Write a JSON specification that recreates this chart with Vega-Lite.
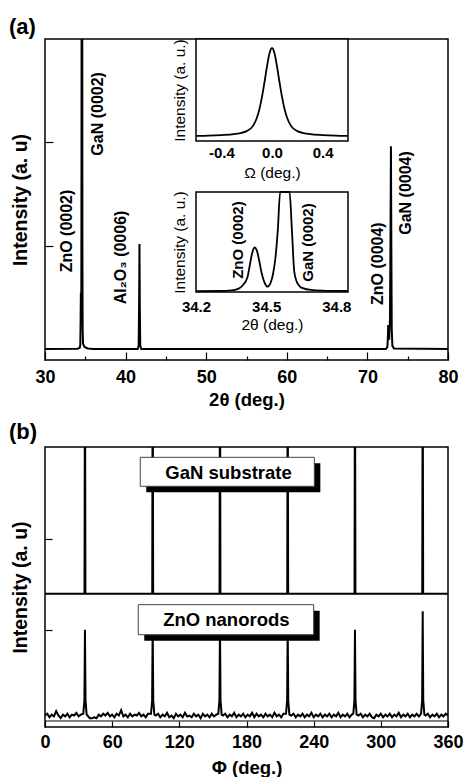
{
  "$schema": "https://vega.github.io/schema/vega-lite/v6.json",
  "background": "white",
  "padding": {"left": 8, "top": 15, "right": 5, "bottom": 0},
  "config": {
    "font": "Liberation Sans",
    "view": {"stroke": "black", "strokeWidth": 1.5},
    "axis": {"grid": false, "domain": false, "tickColor": "black", "tickWidth": 1.2, "labelColor": "black", "titleColor": "black", "labelFont": "Liberation Sans", "titleFont": "Liberation Sans", "labelFontWeight": "bold", "titleFontWeight": "bold", "labelFlush": false, "labelOverlap": false},
    "title": {"font": "Liberation Sans", "fontWeight": "bold", "color": "black"},
    "text": {"font": "Liberation Sans"}
  },
  "datasets": {
    "main": [
      {"x": 30, "y": 0.01}, {"x": 34.0, "y": 0.012}, {"x": 34.3, "y": 0.02}, {"x": 34.38, "y": 0.05}, {"x": 34.42, "y": 0.3}, {"x": 34.45, "y": 0.55}, {"x": 34.48, "y": 0.3}, {"x": 34.5, "y": 0.25}, {"x": 34.52, "y": 1.2}, {"x": 34.54, "y": 3.5}, {"x": 34.62, "y": 3.5}, {"x": 34.64, "y": 1.0}, {"x": 34.67, "y": 0.2}, {"x": 34.72, "y": 0.06}, {"x": 34.9, "y": 0.03}, {"x": 35.3, "y": 0.015}, {"x": 36, "y": 0.01},
      {"x": 41.5, "y": 0.01}, {"x": 41.62, "y": 0.04}, {"x": 41.68, "y": 0.5}, {"x": 41.72, "y": 1.02}, {"x": 41.76, "y": 0.45}, {"x": 41.82, "y": 0.04}, {"x": 41.95, "y": 0.01},
      {"x": 72.3, "y": 0.01}, {"x": 72.48, "y": 0.03}, {"x": 72.54, "y": 0.12}, {"x": 72.58, "y": 0.24}, {"x": 72.62, "y": 0.16}, {"x": 72.7, "y": 0.1}, {"x": 72.8, "y": 0.3}, {"x": 72.86, "y": 1.0}, {"x": 72.92, "y": 1.96}, {"x": 72.97, "y": 1.0}, {"x": 73.02, "y": 0.2}, {"x": 73.1, "y": 0.04}, {"x": 73.3, "y": 0.015}, {"x": 80, "y": 0.01}
    ],
    "mainLab": [
      {"x": 32.73, "y": 1.144, "t": "ZnO (0002)"},
      {"x": 36.58, "y": 2.27, "t": "GaN (0002)"},
      {"x": 39.43, "y": 0.89, "t": "Al₂O₃ (0006)"},
      {"x": 71.3, "y": 0.83, "t": "ZnO (0004)"},
      {"x": 74.8, "y": 1.51, "t": "GaN (0004)"}
    ],
    "rock": [
      {"x": -0.6, "y": 0.12}, {"x": -0.5, "y": 0.14}, {"x": -0.4, "y": 0.19}, {"x": -0.3, "y": 0.27}, {"x": -0.25, "y": 0.35}, {"x": -0.2, "y": 0.51}, {"x": -0.15, "y": 0.94}, {"x": -0.12, "y": 1.59}, {"x": -0.1, "y": 2.29}, {"x": -0.08, "y": 3.26}, {"x": -0.06, "y": 4.48}, {"x": -0.04, "y": 5.79}, {"x": -0.02, "y": 6.89}, {"x": 0, "y": 7.33},
      {"x": 0.02, "y": 6.89}, {"x": 0.04, "y": 5.79}, {"x": 0.06, "y": 4.48}, {"x": 0.08, "y": 3.26}, {"x": 0.1, "y": 2.29}, {"x": 0.12, "y": 1.59}, {"x": 0.15, "y": 0.94}, {"x": 0.2, "y": 0.51}, {"x": 0.25, "y": 0.35}, {"x": 0.3, "y": 0.27}, {"x": 0.4, "y": 0.19}, {"x": 0.5, "y": 0.14}, {"x": 0.6, "y": 0.12}
    ],
    "zscan": [
      {"x": 34.2, "y": 0.2}, {"x": 34.3, "y": 0.21}, {"x": 34.35, "y": 0.24}, {"x": 34.38, "y": 0.32}, {"x": 34.4, "y": 0.5}, {"x": 34.42, "y": 0.9}, {"x": 34.43, "y": 1.5}, {"x": 34.44, "y": 2.1}, {"x": 34.45, "y": 2.39}, {"x": 34.46, "y": 2.25}, {"x": 34.47, "y": 1.75}, {"x": 34.48, "y": 1.15}, {"x": 34.49, "y": 0.72}, {"x": 34.5, "y": 0.48}, {"x": 34.505, "y": 0.43}, {"x": 34.51, "y": 0.45}, {"x": 34.52, "y": 0.65}, {"x": 34.53, "y": 1.1}, {"x": 34.54, "y": 1.9}, {"x": 34.55, "y": 3.3}, {"x": 34.56, "y": 5.3}, {"x": 34.57, "y": 8}, {"x": 34.58, "y": 9}, {"x": 34.59, "y": 8}, {"x": 34.6, "y": 6}, {"x": 34.61, "y": 3.3}, {"x": 34.62, "y": 1.2}, {"x": 34.63, "y": 0.7}, {"x": 34.64, "y": 0.5}, {"x": 34.65, "y": 0.38}, {"x": 34.7, "y": 0.25}, {"x": 34.76, "y": 0.22}, {"x": 34.85, "y": 0.21}
    ],
    "zLab": [
      {"x": 34.378, "y": 2.76, "t": "ZnO (0002)"},
      {"x": 34.68, "y": 2.64, "t": "GaN (0002)"}
    ],
    "gan": [
      {"x": 0, "y": 1.409}, {"x": 35.2, "y": 1.409}, {"x": 35.7, "y": 5}, {"x": 36.2, "y": 1.409},
      {"x": 95.7, "y": 1.409}, {"x": 96.2, "y": 5}, {"x": 96.7, "y": 1.409},
      {"x": 155.8, "y": 1.409}, {"x": 156.3, "y": 5}, {"x": 156.8, "y": 1.409},
      {"x": 216.3, "y": 1.409}, {"x": 216.8, "y": 5}, {"x": 217.3, "y": 1.409},
      {"x": 276.4, "y": 1.409}, {"x": 276.9, "y": 5}, {"x": 277.4, "y": 1.409},
      {"x": 336.9, "y": 1.409}, {"x": 337.4, "y": 5}, {"x": 337.9, "y": 1.409}, {"x": 360, "y": 1.409}
    ],
    "zno": [
      {"x": 0, "y": 0.03}, {"x": 2, "y": 0.05}, {"x": 4, "y": 0.01}, {"x": 6, "y": 0.04}, {"x": 8, "y": 0.02}, {"x": 10, "y": 0.08}, {"x": 12, "y": 0.03}, {"x": 14, "y": 0.0}, {"x": 16, "y": 0.04}, {"x": 18, "y": 0.02}, {"x": 20, "y": 0.05}, {"x": 22, "y": 0.01}, {"x": 24, "y": 0.04}, {"x": 26, "y": 0.03}, {"x": 28, "y": 0.06}, {"x": 30, "y": 0.02}, {"x": 32, "y": 0.04},
      {"x": 34.2, "y": 0.05}, {"x": 35.2, "y": 0.2}, {"x": 35.7, "y": 1.0}, {"x": 36.2, "y": 0.2}, {"x": 37.2, "y": 0.04},
      {"x": 38, "y": 0.03}, {"x": 40, "y": 0.0}, {"x": 42, "y": 0.0}, {"x": 44, "y": 0.01}, {"x": 46, "y": 0.0}, {"x": 48, "y": 0.04}, {"x": 50, "y": 0.02}, {"x": 52, "y": 0.05}, {"x": 54, "y": 0.03}, {"x": 56, "y": 0.06}, {"x": 58, "y": 0.02}, {"x": 60, "y": 0.04}, {"x": 62, "y": 0.01}, {"x": 64, "y": 0.05}, {"x": 66, "y": 0.03}, {"x": 68, "y": 0.09}, {"x": 70, "y": 0.02}, {"x": 72, "y": 0.04}, {"x": 74, "y": 0.01}, {"x": 76, "y": 0.05}, {"x": 78, "y": 0.02}, {"x": 80, "y": 0.04}, {"x": 82, "y": 0.03}, {"x": 84, "y": 0.06}, {"x": 86, "y": 0.02}, {"x": 88, "y": 0.04}, {"x": 90, "y": 0.01}, {"x": 92, "y": 0.05},
      {"x": 94.7, "y": 0.05}, {"x": 95.7, "y": 0.2}, {"x": 96.2, "y": 1.05}, {"x": 96.7, "y": 0.2}, {"x": 97.7, "y": 0.04},
      {"x": 99, "y": 0.03}, {"x": 101, "y": 0.05}, {"x": 103, "y": 0.01}, {"x": 105, "y": 0.04}, {"x": 107, "y": 0.02}, {"x": 109, "y": 0.06}, {"x": 111, "y": 0.01}, {"x": 113, "y": 0.03}, {"x": 115, "y": 0.0}, {"x": 117, "y": 0.05}, {"x": 119, "y": 0.02}, {"x": 121, "y": 0.04}, {"x": 123, "y": 0.01}, {"x": 125, "y": 0.06}, {"x": 127, "y": 0.02}, {"x": 129, "y": 0.03}, {"x": 131, "y": 0.01}, {"x": 133, "y": 0.05}, {"x": 135, "y": 0.02}, {"x": 137, "y": 0.04}, {"x": 139, "y": 0.0}, {"x": 141, "y": 0.05}, {"x": 143, "y": 0.02}, {"x": 145, "y": 0.04}, {"x": 147, "y": 0.01}, {"x": 149, "y": 0.05}, {"x": 151, "y": 0.02}, {"x": 153, "y": 0.04},
      {"x": 154.8, "y": 0.05}, {"x": 155.8, "y": 0.2}, {"x": 156.3, "y": 1.05}, {"x": 156.8, "y": 0.2}, {"x": 157.8, "y": 0.04},
      {"x": 159, "y": 0.03}, {"x": 161, "y": 0.05}, {"x": 163, "y": 0.01}, {"x": 165, "y": 0.04}, {"x": 167, "y": 0.02}, {"x": 169, "y": 0.06}, {"x": 171, "y": 0.01}, {"x": 173, "y": 0.04}, {"x": 175, "y": 0.02}, {"x": 177, "y": 0.05}, {"x": 179, "y": 0.01}, {"x": 181, "y": 0.04}, {"x": 183, "y": 0.02}, {"x": 185, "y": 0.06}, {"x": 187, "y": 0.01}, {"x": 189, "y": 0.05}, {"x": 191, "y": 0.02}, {"x": 193, "y": 0.04}, {"x": 195, "y": 0.01}, {"x": 197, "y": 0.05}, {"x": 199, "y": 0.02}, {"x": 201, "y": 0.04}, {"x": 203, "y": 0.01}, {"x": 205, "y": 0.06}, {"x": 207, "y": 0.02}, {"x": 209, "y": 0.04}, {"x": 211, "y": 0.01}, {"x": 213, "y": 0.05},
      {"x": 215.3, "y": 0.05}, {"x": 216.3, "y": 0.2}, {"x": 216.8, "y": 1.05}, {"x": 217.3, "y": 0.2}, {"x": 218.3, "y": 0.04},
      {"x": 220, "y": 0.03}, {"x": 222, "y": 0.05}, {"x": 224, "y": 0.01}, {"x": 226, "y": 0.04}, {"x": 228, "y": 0.02}, {"x": 230, "y": 0.05}, {"x": 232, "y": 0.01}, {"x": 234, "y": 0.04}, {"x": 236, "y": 0.02}, {"x": 238, "y": 0.06}, {"x": 240, "y": 0.01}, {"x": 242, "y": 0.04}, {"x": 244, "y": 0.02}, {"x": 246, "y": 0.05}, {"x": 248, "y": 0.01}, {"x": 250, "y": 0.04}, {"x": 252, "y": 0.02}, {"x": 254, "y": 0.05}, {"x": 256, "y": 0.01}, {"x": 258, "y": 0.04}, {"x": 260, "y": 0.02}, {"x": 262, "y": 0.06}, {"x": 264, "y": 0.01}, {"x": 266, "y": 0.04}, {"x": 268, "y": 0.02}, {"x": 270, "y": 0.05}, {"x": 272, "y": 0.01}, {"x": 274, "y": 0.04},
      {"x": 275.4, "y": 0.05}, {"x": 276.4, "y": 0.2}, {"x": 276.9, "y": 1.0}, {"x": 277.4, "y": 0.2}, {"x": 278.4, "y": 0.04},
      {"x": 280, "y": 0.03}, {"x": 282, "y": 0.05}, {"x": 284, "y": 0.01}, {"x": 286, "y": 0.04}, {"x": 288, "y": 0.02}, {"x": 290, "y": 0.05}, {"x": 292, "y": 0.01}, {"x": 294, "y": 0.0}, {"x": 296, "y": 0.04}, {"x": 298, "y": 0.02}, {"x": 300, "y": 0.05}, {"x": 302, "y": 0.01}, {"x": 304, "y": 0.04}, {"x": 306, "y": 0.02}, {"x": 308, "y": 0.05}, {"x": 310, "y": 0.01}, {"x": 312, "y": 0.04}, {"x": 314, "y": 0.02}, {"x": 316, "y": 0.06}, {"x": 318, "y": 0.01}, {"x": 320, "y": 0.04}, {"x": 322, "y": 0.02}, {"x": 324, "y": 0.05}, {"x": 326, "y": 0.01}, {"x": 328, "y": 0.04}, {"x": 330, "y": 0.02}, {"x": 332, "y": 0.05}, {"x": 334, "y": 0.02},
      {"x": 335.9, "y": 0.05}, {"x": 336.9, "y": 0.2}, {"x": 337.4, "y": 1.21}, {"x": 337.9, "y": 0.2}, {"x": 338.9, "y": 0.04},
      {"x": 340, "y": 0.03}, {"x": 342, "y": 0.05}, {"x": 344, "y": 0.01}, {"x": 346, "y": 0.04}, {"x": 348, "y": 0.02}, {"x": 350, "y": 0.05}, {"x": 352, "y": 0.01}, {"x": 354, "y": 0.04}, {"x": 356, "y": 0.02}, {"x": 358, "y": 0.05}, {"x": 360, "y": 0.03}
    ],
    "boxes": [
      {"x": 85.1, "x2": 240.6, "y": 2.625, "y2": 2.953, "xc": 164, "yc": 2.77, "t": "GaN substrate"},
      {"x": 83.3, "x2": 240.0, "y": 0.945, "y2": 1.285, "xc": 162, "yc": 1.115, "t": "ZnO nanorods"}
    ]
  },
  "vconcat": [
    {
      "width": 403,
      "height": 321,
      "title": {"text": "(a)", "anchor": "start", "frame": "group", "dx": -36, "fontSize": 22, "offset": -18, "baseline": "alphabetic"},
      "resolve": {"scale": {"x": "independent", "y": "independent"}, "axis": {"x": "independent", "y": "independent"}},
      "layer": [
        {
          "layer": [
            {
              "data": {"name": "main"},
              "mark": {"type": "line", "color": "black", "strokeWidth": 2, "clip": true},
              "encoding": {
                "x": {"field": "x", "type": "quantitative", "scale": {"domain": [30, 80], "nice": false, "zero": false},
                  "axis": {"orient": "bottom", "title": "2θ (deg.)", "values": [30, 35, 40, 45, 50, 55, 60, 65, 70, 75, 80], "labelExpr": "datum.value % 10 === 0 ? datum.label : ''", "tickSize": {"condition": {"test": "datum.value % 10 === 0", "value": -8}, "value": -4}, "labelPadding": 16.5, "labelFontSize": 18, "titleFontSize": 18.5, "titlePadding": 0}},
                "y": {"field": "y", "type": "quantitative", "scale": {"domain": [-0.096, 2.99], "nice": false, "zero": false},
                  "axis": {"orient": "left", "title": "Intensity (a. u)", "values": [1, 2], "labels": false, "tickSize": -8, "titleFontSize": 19.5, "titlePadding": 13.5}}
              }
            },
            {
              "data": {"name": "mainLab"},
              "mark": {"type": "text", "angle": 270, "fontSize": 16, "fontWeight": "bold", "align": "center", "baseline": "middle", "color": "black"},
              "encoding": {
                "x": {"field": "x", "type": "quantitative", "scale": {"domain": [30, 80], "nice": false, "zero": false}},
                "y": {"field": "y", "type": "quantitative", "scale": {"domain": [-0.096, 2.99], "nice": false, "zero": false}},
                "text": {"field": "t"}
              }
            }
          ]
        },
        {
          "layer": [
            {
              "data": {"values": [{}]},
              "mark": {"type": "rect", "fill": "white", "stroke": "black", "strokeWidth": 1.5},
              "encoding": {
                "x": {"datum": -0.6, "type": "quantitative", "scale": {"domain": [-0.6, 0.6], "range": [151, 303], "nice": false, "zero": false}},
                "x2": {"datum": 0.6},
                "y": {"datum": -0.3, "type": "quantitative", "scale": {"domain": [-0.3, 8.07], "range": [102, 0], "nice": false, "zero": false}},
                "y2": {"datum": 8.07}
              }
            },
            {
              "data": {"name": "rock"},
              "mark": {"type": "line", "color": "black", "strokeWidth": 1.8, "interpolate": "monotone"},
              "encoding": {
                "x": {"field": "x", "type": "quantitative", "scale": {"domain": [-0.6, 0.6], "range": [151, 303], "nice": false, "zero": false},
                  "axis": {"orient": "bottom", "offset": -219, "title": "Ω (deg.)", "values": [-0.4, -0.2, 0, 0.2, 0.4], "labelExpr": "datum.value === 0 ? '0.0' : (datum.value < -0.3 ? '-0.4' : (datum.value > 0.3 ? '0.4' : ''))", "tickSize": -4, "labelPadding": 8, "labelFontSize": 15, "titleFontSize": 15.5, "titleFontWeight": "normal", "titlePadding": 5}},
                "y": {"field": "y", "type": "quantitative", "scale": {"domain": [-0.3, 8.07], "range": [102, 0], "nice": false, "zero": false},
                  "axis": {"orient": "left", "offset": -151, "title": "Intensity (a. u.)", "values": [1, 2, 3, 4, 5, 6, 7], "labels": false, "tickSize": -4, "titleFontSize": 15.5, "titleFontWeight": "normal", "titlePadding": 8}}
              }
            }
          ]
        },
        {
          "layer": [
            {
              "data": {"values": [{}]},
              "mark": {"type": "rect", "fill": "white", "stroke": "black", "strokeWidth": 1.5},
              "encoding": {
                "x": {"datum": 34.2, "type": "quantitative", "scale": {"domain": [34.2, 34.85], "range": [151, 303], "nice": false, "zero": false}},
                "x2": {"datum": 34.85},
                "y": {"datum": 0.16, "type": "quantitative", "scale": {"domain": [0.16, 5.17], "range": [253, 153], "nice": false, "zero": false, "clamp": true}},
                "y2": {"datum": 5.17}
              }
            },
            {
              "data": {"name": "zscan"},
              "mark": {"type": "line", "color": "black", "strokeWidth": 1.8, "interpolate": "monotone"},
              "encoding": {
                "x": {"field": "x", "type": "quantitative", "scale": {"domain": [34.2, 34.85], "range": [151, 303], "nice": false, "zero": false},
                  "axis": {"orient": "bottom", "offset": -68.5, "title": "2θ (deg.)", "values": [34.2, 34.35, 34.5, 34.65, 34.8], "labelExpr": "(abs(datum.value - 34.35) < 0.01 || abs(datum.value - 34.65) < 0.01) ? '' : format(datum.value, '.1f')", "tickSize": -4, "labelPadding": 12, "labelFontSize": 15, "titleFontSize": 15.5, "titleFontWeight": "normal", "titlePadding": 3}},
                "y": {"field": "y", "type": "quantitative", "scale": {"domain": [0.16, 5.17], "range": [253, 153], "nice": false, "zero": false, "clamp": true},
                  "axis": {"orient": "left", "offset": -151, "title": "Intensity (a. u.)", "values": [1, 2, 3, 4, 5], "labels": false, "tickSize": -4, "titleFontSize": 15.5, "titleFontWeight": "normal", "titlePadding": 8}}
              }
            },
            {
              "data": {"name": "zLab"},
              "mark": {"type": "text", "angle": 270, "fontSize": 15, "fontWeight": "bold", "align": "center", "baseline": "middle", "color": "black"},
              "encoding": {
                "x": {"field": "x", "type": "quantitative", "scale": {"domain": [34.2, 34.85], "range": [151, 303], "nice": false, "zero": false}},
                "y": {"field": "y", "type": "quantitative", "scale": {"domain": [0.16, 5.17], "range": [253, 153], "nice": false, "zero": false, "clamp": true}},
                "text": {"field": "t"}
              }
            }
          ]
        }
      ]
    },
    {
      "width": 403,
      "height": 280,
      "title": {"text": "(b)", "anchor": "start", "frame": "group", "dx": -36, "fontSize": 22, "offset": -14, "baseline": "alphabetic"},
      "layer": [
        {
          "data": {"values": [{}]},
          "mark": {"type": "rule", "color": "black", "strokeWidth": 1.5},
          "encoding": {"y": {"datum": 1.409}}
        },
        {
          "data": {"values": [{}]},
          "mark": {"type": "rule", "color": "black", "strokeWidth": 1},
          "encoding": {"y": {"datum": -0.032}}
        },
        {
          "data": {"name": "gan"},
          "mark": {"type": "line", "color": "black", "strokeWidth": 1.8, "clip": true},
          "encoding": {
            "x": {"field": "x", "type": "quantitative"},
            "y": {"field": "y", "type": "quantitative"}
          }
        },
        {
          "data": {"name": "zno"},
          "mark": {"type": "line", "color": "black", "strokeWidth": 2, "clip": true},
          "encoding": {
            "x": {"field": "x", "type": "quantitative", "scale": {"domain": [0, 360], "nice": false, "zero": false},
              "axis": {"title": "Φ (deg.)", "values": [0, 30, 60, 90, 120, 150, 180, 210, 240, 270, 300, 330, 360], "labelExpr": "datum.value % 60 === 0 ? datum.label : ''", "tickSize": {"condition": {"test": "datum.value % 60 === 0", "value": -6}, "value": -4}, "labelPadding": 12, "labelFontSize": 18, "titleFontSize": 18.5, "titlePadding": 7}},
            "y": {"field": "y", "type": "quantitative", "scale": {"domain": [-0.1, 3.07], "nice": false, "zero": false},
              "axis": {"title": "Intensity (a. u)", "values": [1, 2.03], "labels": false, "tickSize": -7, "titleFontSize": 19.5, "titlePadding": 13.5}}
          }
        },
        {
          "data": {"name": "boxes"},
          "mark": {"type": "rect", "color": "black", "xOffset": 6, "x2Offset": 6, "yOffset": 6, "y2Offset": 6},
          "encoding": {
            "x": {"field": "x", "type": "quantitative"},
            "x2": {"field": "x2"},
            "y": {"field": "y", "type": "quantitative"},
            "y2": {"field": "y2"}
          }
        },
        {
          "data": {"name": "boxes"},
          "mark": {"type": "rect", "fill": "white", "stroke": "#444444", "strokeWidth": 1},
          "encoding": {
            "x": {"field": "x", "type": "quantitative"},
            "x2": {"field": "x2"},
            "y": {"field": "y", "type": "quantitative"},
            "y2": {"field": "y2"}
          }
        },
        {
          "data": {"name": "boxes"},
          "mark": {"type": "text", "fontSize": 18.5, "fontWeight": "bold", "align": "center", "baseline": "middle", "color": "black"},
          "encoding": {
            "x": {"field": "xc", "type": "quantitative"},
            "y": {"field": "yc", "type": "quantitative"},
            "text": {"field": "t"}
          }
        }
      ]
    }
  ],
  "spacing": 87,
  "bounds": "flush"
}
